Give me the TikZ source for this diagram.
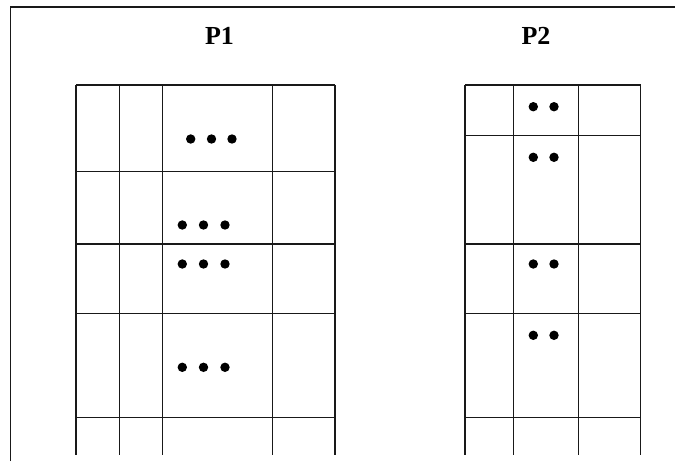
\documentclass[tikz,border=0pt]{standalone}
\usepackage{fontspec}
\setmainfont{Liberation Serif}
\begin{document}
\begin{tikzpicture}[x=1pt,y=-1pt,
  rule/.style={line width=1.5pt, draw=black!90},
  dotmark/.style={fill=black},
  title/.style={font=\bfseries\fontsize{26}{30}\selectfont, anchor=base, inner sep=0pt}]
\useasboundingbox (0,0) rectangle (675,461);

% frame: top and left edges only
\draw[rule] (10.7,461) -- (10.7,7) -- (675,7);

% titles
\node[title] (p1) at (219.5,44) {P1};
\node[title] (p2) at (536,44) {P2};

% P1 table
\foreach \x in {76,119.3,162.7,272.7,335}
  \draw[rule] (\x,85) -- (\x,455);
\foreach \y in {85,171.7,244,313.3,417.3}
  \draw[rule] (76,\y) -- (335,\y);

% P1 dots
\foreach \x in {190.7,211.5,232}
  \fill[dotmark] (\x,139) circle (4.7pt);
\foreach \y in {225,264,367.3}
  \foreach \x in {182.3,203.5,225}
    \fill[dotmark] (\x,\y) circle (4.7pt);

% P2 table
\foreach \x in {465,513.3,578.3,640.7}
  \draw[rule] (\x,85) -- (\x,455);
\foreach \y in {85,135.7,244,313.3,417.3}
  \draw[rule] (465,\y) -- (640.7,\y);

% P2 dots
\foreach \y in {106.7,157.3,264,335.3}
  \foreach \x in {533.3,554}
    \fill[dotmark] (\x,\y) circle (4.7pt);
\end{tikzpicture}
\end{document}
